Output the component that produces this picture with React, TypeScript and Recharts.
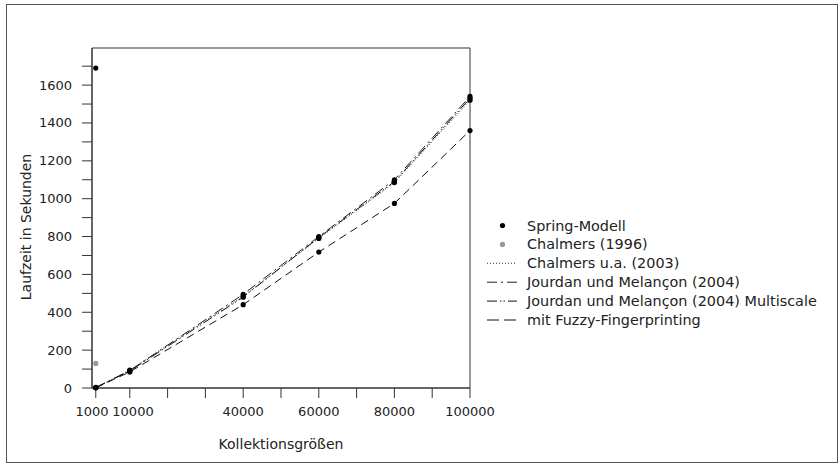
import React from 'react';
import { ComposedChart, Line, Scatter, XAxis, YAxis, ReferenceArea, Label } from 'recharts';

const FONT = '"DejaVu Sans", sans-serif';

// Collection sizes (x) for the line series
const sizes = [1000, 10000, 40000, 60000, 80000, 100000];
const chalmers2003 = [2, 95, 485, 790, 1085, 1520];
const jourdan2004 = [3, 92, 495, 800, 1100, 1540];
const jourdanMultiscale = [2, 90, 480, 795, 1090, 1530];
const fuzzyFingerprinting = [1, 85, 440, 718, 975, 1360];

// Single-point series
const springModell = [{ x: 1000, y: 1690 }];
const chalmers1996 = [{ x: 1000, y: 130 }];

// Axis ticks
const xTicks = [1000, 10000, 20000, 30000, 40000, 50000, 60000, 70000, 80000, 90000, 100000];
const xLabeled = [1000, 10000, 40000, 60000, 80000, 100000];
const yTicks = [0, 100, 200, 300, 400, 500, 600, 700, 800, 900, 1000, 1100, 1200, 1300, 1400, 1500, 1600, 1700];
const yLabeled = [0, 200, 400, 600, 800, 1000, 1200, 1400, 1600];
const yMax = 1796;

const rows = sizes.map((x, i) => ({
  x,
  chalmers2003: chalmers2003[i],
  jourdan2004: jourdan2004[i],
  jourdanMultiscale: jourdanMultiscale[i],
  fuzzy: fuzzyFingerprinting[i],
}));

const legendItems = [
  { label: 'Spring-Modell', kind: 'dot', color: '#000' },
  { label: 'Chalmers (1996)', kind: 'dot', color: '#999' },
  { label: 'Chalmers u.a. (2003)', kind: 'line', dash: '1 2', color: '#333' },
  { label: 'Jourdan und Melançon (2004)', kind: 'line', dash: '10 4 2 4', color: '#222' },
  { label: 'Jourdan und Melançon (2004) Multiscale', kind: 'line', dash: '10 3 1.5 2 1.5 3', color: '#111' },
  { label: 'mit Fuzzy-Fingerprinting', kind: 'line', dash: '12 5', color: '#111' },
];

// small horizontal nudges so the two crowded labels don't collide
const labelNudge = (v: number) => (v === 1000 ? -3.7 : v === 10000 ? 3.2 : 0);

const XTick = (props: any) => {
  const { x, y, payload } = props;
  if (!xLabeled.includes(payload.value)) return null;
  return (
    <text x={x} y={y} dx={labelNudge(payload.value)} textAnchor="middle" dominantBaseline="central" fontFamily={FONT} fontSize={13} fill="#222">
      {payload.value}
    </text>
  );
};

const YTick = (props: any) => {
  const { x, y, payload } = props;
  if (!yLabeled.includes(payload.value)) return null;
  return (
    <text x={x} y={y} textAnchor="end" dominantBaseline="central" fontFamily={FONT} fontSize={13} fill="#222">
      {payload.value}
    </text>
  );
};

const YTitle = (props: any) => {
  const vb = props.viewBox || {};
  const cx = 26;
  const cy = (vb.y ?? 0) + (vb.height ?? 0) / 2 + 9;
  return (
    <text x={cx} y={cy} transform={`rotate(-90 ${cx} ${cy})`} textAnchor="middle" dominantBaseline="central" fontFamily={FONT} fontSize={14} fill="#222">
      Laufzeit in Sekunden
    </text>
  );
};

const XTitle = (props: any) => {
  const vb = props.viewBox || {};
  const cx = (vb.x ?? 0) + (vb.width ?? 0) / 2;
  const cy = 444;
  return (
    <text x={cx} y={cy} textAnchor="middle" dominantBaseline="central" fontFamily={FONT} fontSize={14} fill="#222">
      Kollektionsgrößen
    </text>
  );
};

const LegendBox = () => {
  const rowH = 18.9;
  return (
    <svg width={345} height={rowH * legendItems.length + 4} style={{ display: 'block', overflow: 'visible' }}>
      {legendItems.map((it, i) => {
        const cy = 9.5 + i * rowH;
        return (
          <g key={it.label}>
            {it.kind === 'dot' ? (
              <circle cx={15.5} cy={cy} r={2.6} fill={it.color} />
            ) : (
              <line x1={0} x2={30} y1={cy} y2={cy} stroke={it.color} strokeWidth={1} strokeDasharray={it.dash} />
            )}
            <text x={40} y={cy} dominantBaseline="central" fontFamily={FONT} fontSize={14.4} fill="#222">
              {it.label}
            </text>
          </g>
        );
      })}
    </svg>
  );
};

const dotStyle = { r: 2.6, fill: '#000', stroke: 'none' };

export default function App() {
  return (
    <div style={{ position: 'absolute', left: 0, top: 0, width: 838, height: 465, background: '#fff' }}>
      <div
        style={{
          position: 'absolute',
          left: 6,
          top: 4,
          width: 832,
          height: 459,
          border: '1.5px solid #555',
          boxSizing: 'border-box',
        }}
      />
      <div style={{ position: 'absolute', left: 0, top: 0 }}>
        <ComposedChart
          width={838}
          height={465}
          data={rows}
          margin={{ top: 48, right: 368, bottom: 0, left: 0 }}
        >
          <XAxis
            type="number"
            dataKey="x"
            domain={[0, 100000]}
            ticks={xTicks}
            interval={0}
            tickSize={10}
            tickMargin={13}
            height={77}
            axisLine={{ stroke: '#333' }}
            tickLine={{ stroke: '#333' }}
            tick={<XTick />}
          >
            <Label content={<XTitle />} />
          </XAxis>
          <YAxis
            type="number"
            domain={[0, yMax]}
            ticks={yTicks}
            interval={0}
            tickSize={10}
            tickMargin={10}
            width={92}
            axisLine={{ stroke: '#333' }}
            tickLine={{ stroke: '#333' }}
            tick={<YTick />}
          >
            <Label content={<YTitle />} />
          </YAxis>
          <ReferenceArea x1={0} x2={100000} y1={0} y2={yMax} fill="none" stroke="#333" strokeWidth={1} />
          <Line dataKey="chalmers2003" stroke="#333" strokeWidth={1} strokeDasharray="1 2" dot={dotStyle} isAnimationActive={false} />
          <Line dataKey="jourdan2004" stroke="#222" strokeWidth={1} strokeDasharray="10 4 2 4" dot={dotStyle} isAnimationActive={false} />
          <Line dataKey="jourdanMultiscale" stroke="#111" strokeWidth={1} strokeDasharray="10 3 1.5 2 1.5 3" dot={dotStyle} isAnimationActive={false} />
          <Line dataKey="fuzzy" stroke="#111" strokeWidth={1} strokeDasharray="8 5" dot={dotStyle} isAnimationActive={false} />
          <Scatter data={springModell} dataKey="y" fill="#000" shape={(p: any) => <circle cx={p.cx} cy={p.cy} r={2.6} fill="#000" />} isAnimationActive={false} />
          <Scatter data={chalmers1996} dataKey="y" fill="#999" shape={(p: any) => <circle cx={p.cx} cy={p.cy} r={2.6} fill="#999" />} isAnimationActive={false} />
        </ComposedChart>
      </div>
      <div style={{ position: 'absolute', left: 486.5, top: 216 }}>
        <LegendBox />
      </div>
    </div>
  );
}
